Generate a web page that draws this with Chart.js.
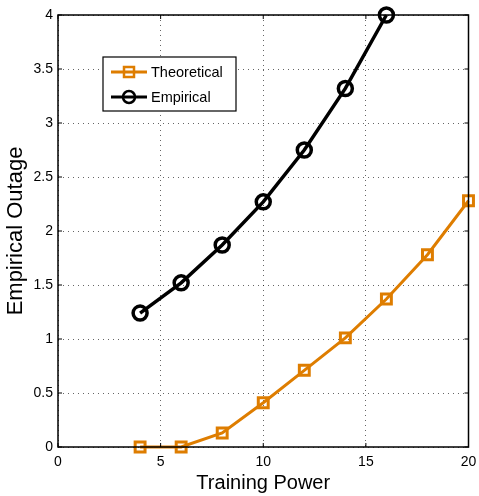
<!DOCTYPE html>
<html>
<head>
<meta charset="utf-8">
<script src="https://cdn.jsdelivr.net/npm/chart.js@4.4.0/dist/chart.umd.min.js"></script>
<style>
	html, body { margin: 0; padding: 0; background: #fff; }
	#wrap { width: 479px; height: 496px; }
</style>
</head>
<body>
<div id="wrap"><canvas id="myChart" width="479" height="496"></canvas></div>
<script>
// data
const powerTheo = [4, 6, 8, 10, 12, 14, 16, 18, 20];
const outageTheo = [0, 0, 0.13, 0.41, 0.71, 1.01, 1.37, 1.78, 2.28];
const powerEmp = [4, 6, 8, 10, 12, 14, 16];
const outageEmp = [1.24, 1.52, 1.87, 2.27, 2.75, 3.32, 4.0];
const xTicks = [0, 5, 10, 15, 20];
const yTicks = [0, 0.5, 1, 1.5, 2, 2.5, 3, 3.5, 4];

const orange = 'rgb(222,125,0)';
const fontName = '"Liberation Sans", Arial, sans-serif';

function toPoints(xs, ys){
	let pts = [];
	for(var i = 0; i < xs.length; i++){
		pts.push({x: xs[i], y: ys[i]});
	}
	return pts;
}

// box round the plot + inward ticks, matlab style
const boxPlugin = {
	id: 'box',
	afterDraw: function(chart){
		let ctx = chart.ctx;
		let a = chart.chartArea;
		ctx.save();
		ctx.strokeStyle = '#000';
		ctx.lineWidth = 1.5;
		ctx.strokeRect(a.left, a.top, a.right - a.left, a.bottom - a.top);
		ctx.lineWidth = 1;
		let xs = chart.scales.x, ys = chart.scales.y;
		xTicks.forEach(function(v){
			let px = xs.getPixelForValue(v);
			ctx.beginPath();
			ctx.moveTo(px, a.bottom); ctx.lineTo(px, a.bottom - 4);
			ctx.moveTo(px, a.top); ctx.lineTo(px, a.top + 4);
			ctx.stroke();
		});
		yTicks.forEach(function(v){
			let py = ys.getPixelForValue(v);
			ctx.beginPath();
			ctx.moveTo(a.left, py); ctx.lineTo(a.left + 4, py);
			ctx.moveTo(a.right, py); ctx.lineTo(a.right - 4, py);
			ctx.stroke();
		});
		ctx.restore();
	}
};

// legend box inside the plot
const legendPlugin = {
	id: 'innerLegend',
	afterDraw: function(chart){
		let ctx = chart.ctx;
		let a = chart.chartArea;
		let bx = a.left + 45, by = a.top + 42, bw = 133, bh = 54;
		ctx.save();
		ctx.fillStyle = '#fff';
		ctx.fillRect(bx, by, bw, bh);
		ctx.strokeStyle = '#000';
		ctx.lineWidth = 1.2;
		ctx.strokeRect(bx, by, bw, bh);
		ctx.font = '14.5px ' + fontName;
		ctx.textBaseline = 'middle';
		chart.data.datasets.forEach(function(ds, i){
			let cy = by + 15 + i * 25;
			let x1 = bx + 8, x2 = bx + 44, cx = (x1 + x2) / 2;
			ctx.strokeStyle = ds.borderColor;
			ctx.lineWidth = 3;
			ctx.beginPath();
			ctx.moveTo(x1, cy); ctx.lineTo(x2, cy);
			ctx.stroke();
			ctx.lineWidth = 2.5;
			if(ds.pointStyle == 'rect'){
				ctx.strokeRect(cx - 5, cy - 5, 10, 10);
			}
			else{
				ctx.beginPath();
				ctx.arc(cx, cy, 6, 0, Math.PI * 2);
				ctx.stroke();
			}
			ctx.fillStyle = '#000';
			ctx.fillText(ds.label, bx + 48, cy + 1);
		});
		ctx.restore();
	}
};

const data = {
	datasets: [{
		label: 'Theoretical',
		data: toPoints(powerTheo, outageTheo),
		borderColor: orange,
		borderWidth: 3,
		pointStyle: 'rect',
		pointRadius: 7,
		pointBorderWidth: 3,
		pointBackgroundColor: 'rgba(0,0,0,0)',
		pointBorderColor: orange,
		tension: 0,
		clip: false
	}, {
		label: 'Empirical',
		data: toPoints(powerEmp, outageEmp),
		borderColor: '#000',
		borderWidth: 3.5,
		pointStyle: 'circle',
		pointRadius: 7,
		pointBorderWidth: 3.5,
		pointBackgroundColor: 'rgba(0,0,0,0)',
		pointBorderColor: '#000',
		tension: 0,
		clip: false
	}]
};

const gridStyle = {
	color: 'rgba(0,0,0,0.6)',
	lineWidth: 1,
	drawTicks: false
};

const config = {
	type: 'line',
	data: data,
	options: {
		responsive: false,
		animation: false,
		layout: { padding: { left: 0, right: 10, top: 15, bottom: 0 } },
		plugins: {
			legend: { display: false },
			tooltip: { enabled: false }
		},
		scales: {
			x: {
				type: 'linear',
				min: 0, max: 20,
				afterBuildTicks: function(s){ s.ticks = xTicks.map(function(v){ return {value: v}; }); },
				afterFit: function(s){ s.height = 49; s.paddingLeft = 0; s.paddingRight = 0; },
				grid: gridStyle,
				border: { display: false, dash: [1, 4] },
				ticks: { color: '#000', padding: 7, font: { family: fontName, size: 14 }, callback: function(v){ return String(v); } },
				title: { display: true, text: 'Training Power', color: '#000', padding: { top: 0, bottom: 1 }, font: { family: fontName, size: 20 } }
			},
			y: {
				type: 'linear',
				min: 0, max: 4,
				afterBuildTicks: function(s){ s.ticks = yTicks.map(function(v){ return {value: v}; }); },
				afterFit: function(s){ s.width = 58; s.paddingTop = 0; s.paddingBottom = 0; },
				grid: gridStyle,
				border: { display: false, dash: [1, 4] },
				ticks: { color: '#000', padding: 5, font: { family: fontName, size: 14 }, callback: function(v){ return String(v); } },
				title: { display: true, text: 'Empirical Outage', color: '#000', padding: { top: 3, bottom: 0 }, font: { family: fontName, size: 22 } }
			}
		}
	},
	plugins: [boxPlugin, legendPlugin]
};

var myChart = new Chart(document.getElementById('myChart'), config);
</script>
</body>
</html>
